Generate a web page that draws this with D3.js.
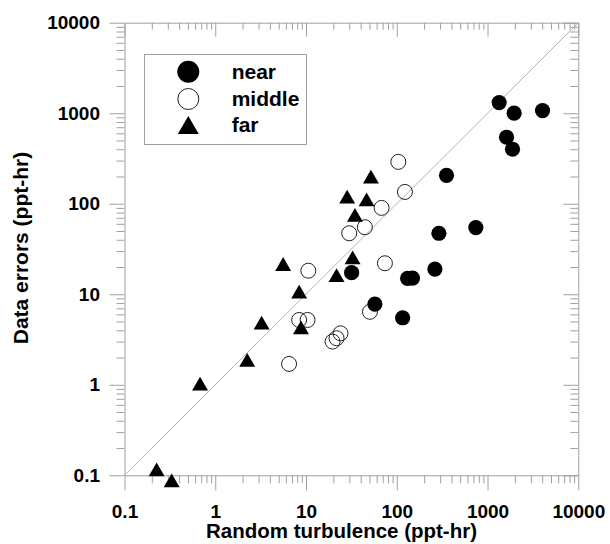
<!DOCTYPE html>
<html>
<head>
<meta charset="utf-8">
<script src="https://cdn.jsdelivr.net/npm/d3@7"></script>
<style>
  body { margin: 0; background: #fff; }
  svg text { font-family: "Liberation Sans", Arial, sans-serif; font-weight: bold; fill: #000; }
</style>
</head>
<body>
<svg id="chart" width="610" height="544"></svg>
<script>
// data: [random turbulence, data errors] in ppt-hr
var nearX = [1343, 1963, 4036, 1619, 1884, 353, 743, 291, 263, 131.5, 149, 57.4, 116, 31.8];
var nearY = [1310, 1000, 1069, 543, 400, 206, 54.5, 47.2, 19, 15.0, 15.1, 7.8, 5.5, 17.3];

var middleX = [104, 123, 68, 44.5, 29.9, 74, 50.6, 10.6, 8.4, 10.4, 19.6, 21.7, 24, 6.5];
var middleY = [290, 135, 90, 55, 47.2, 22, 6.4, 18.2, 5.2, 5.2, 3.0, 3.27, 3.7, 1.7];

var farX = [51.9, 28.4, 46.5, 34.6, 32.6, 21.7, 5.6, 8.4, 8.8, 3.24, 2.25, 0.68, 0.226, 0.331];
var farY = [199, 120, 112, 75.2, 25.6, 16.3, 21.6, 10.7, 4.3, 4.85, 1.88, 1.03, 0.116, 0.088];

var majorTicks = [0.1, 1, 10, 100, 1000, 10000];
var legendLabels = ["near", "middle", "far"];

(function() {
var svg = d3.select("#chart"),
    pLeft = 124.5, pRight = 578.3, pTop = 22.7, pBottom = 475.3,
    axisColor = "#a0a0a0";

var x = d3.scaleLog().domain([0.1, 10000]).range([pLeft, pRight]);
var y = d3.scaleLog().domain([0.1, 10000]).range([pBottom, pTop]);

// minor ticks 2..9 in each decade
var minorTicks = [];
majorTicks.slice(0, -1).forEach(function(d) {
  for (var k = 2; k <= 9; k++) minorTicks.push(d * k);
});

function styleAxis(g) {
  g.attr("font-size", 19).attr("font-family", null);
  g.selectAll("path, line").attr("stroke", axisColor).attr("stroke-width", 1);
  g.selectAll("text").attr("fill", "#000");
}

var fmt = d3.format("~g");

// bottom axis
svg.append("g").attr("transform", "translate(0," + pBottom + ")")
  .call(d3.axisBottom(x).tickValues(majorTicks).tickFormat(fmt).tickSize(15).tickSizeOuter(0).tickPadding(14))
  .call(styleAxis);
svg.append("g").attr("transform", "translate(0," + pBottom + ")")
  .call(d3.axisBottom(x).tickValues(minorTicks).tickFormat("").tickSize(8))
  .call(function(g) { g.select(".domain").remove(); styleAxis(g); });

// top axis, ticks inward
svg.append("g").attr("transform", "translate(0," + pTop + ")")
  .call(d3.axisBottom(x).tickValues(majorTicks).tickFormat("").tickSize(14).tickSizeOuter(0))
  .call(styleAxis);
svg.append("g").attr("transform", "translate(0," + pTop + ")")
  .call(d3.axisBottom(x).tickValues(minorTicks).tickFormat("").tickSize(7))
  .call(function(g) { g.select(".domain").remove(); styleAxis(g); });

// left axis
svg.append("g").attr("transform", "translate(" + pLeft + ",0)")
  .call(d3.axisLeft(y).tickValues(majorTicks).tickFormat(fmt).tickSize(15).tickSizeOuter(0).tickPadding(9.5))
  .call(styleAxis);
svg.append("g").attr("transform", "translate(" + pLeft + ",0)")
  .call(d3.axisLeft(y).tickValues(minorTicks).tickFormat("").tickSize(8))
  .call(function(g) { g.select(".domain").remove(); styleAxis(g); });

// right axis, ticks inward
svg.append("g").attr("transform", "translate(" + pRight + ",0)")
  .call(d3.axisLeft(y).tickValues(majorTicks).tickFormat("").tickSize(15).tickSizeOuter(0))
  .call(styleAxis);
svg.append("g").attr("transform", "translate(" + pRight + ",0)")
  .call(d3.axisLeft(y).tickValues(minorTicks).tickFormat("").tickSize(8))
  .call(function(g) { g.select(".domain").remove(); styleAxis(g); });

// 1:1 line
svg.append("line")
  .attr("x1", x(0.1)).attr("y1", y(0.1))
  .attr("x2", x(10000)).attr("y2", y(10000))
  .attr("stroke", "#b4b4b4").attr("stroke-width", 1);

function triangle(size) {
  var h = Math.sqrt(size / (Math.sqrt(3) * 3));
  return { path: d3.symbol().type(d3.symbolTriangle).size(size)(), shift: h / 2 };
}

// middle (open circles)
svg.append("g").selectAll("circle").data(d3.range(middleX.length)).join("circle")
  .attr("cx", function(i) { return x(middleX[i]); })
  .attr("cy", function(i) { return y(middleY[i]); })
  .attr("r", 7.5)
  .attr("fill", "none").attr("stroke", "#222").attr("stroke-width", 1);

// far (triangles)
var tri = triangle(110);
svg.append("g").selectAll("path").data(d3.range(farX.length)).join("path")
  .attr("d", tri.path)
  .attr("transform", function(i) { return "translate(" + x(farX[i]) + "," + (y(farY[i]) + tri.shift) + ")"; })
  .attr("fill", "#000");

// near (filled circles)
svg.append("g").selectAll("circle").data(d3.range(nearX.length)).join("circle")
  .attr("cx", function(i) { return x(nearX[i]); })
  .attr("cy", function(i) { return y(nearY[i]); })
  .attr("r", 7.6)
  .attr("fill", "#000");

// legend
var lg = svg.append("g");
lg.append("rect").attr("x", 144.5).attr("y", 54.5).attr("width", 162).attr("height", 90)
  .attr("fill", "#fff").attr("stroke", axisColor).attr("stroke-width", 1);
var legY = [71.7, 99, 125];
lg.append("circle").attr("cx", 188.3).attr("cy", legY[0]).attr("r", 11).attr("fill", "#000");
lg.append("circle").attr("cx", 188.3).attr("cy", legY[1]).attr("r", 10.5)
  .attr("fill", "none").attr("stroke", "#222").attr("stroke-width", 1);
var ltri = triangle(190);
lg.append("path").attr("d", ltri.path)
  .attr("transform", "translate(188.3," + (legY[2] + ltri.shift) + ")").attr("fill", "#000");
lg.selectAll("text").data(legendLabels).join("text")
  .attr("x", 231.7).attr("y", function(d, i) { return legY[i] + 7; })
  .attr("font-size", 21).text(function(d) { return d; });

// axis titles
svg.append("text").attr("x", 341.5).attr("y", 537.5).attr("text-anchor", "middle")
  .attr("font-size", 20.5).text("Random turbulence (ppt-hr)");
svg.append("text").attr("transform", "translate(28,248) rotate(-90)").attr("text-anchor", "middle")
  .attr("font-size", 21).text("Data errors (ppt-hr)");
})();
</script>
</body>
</html>
